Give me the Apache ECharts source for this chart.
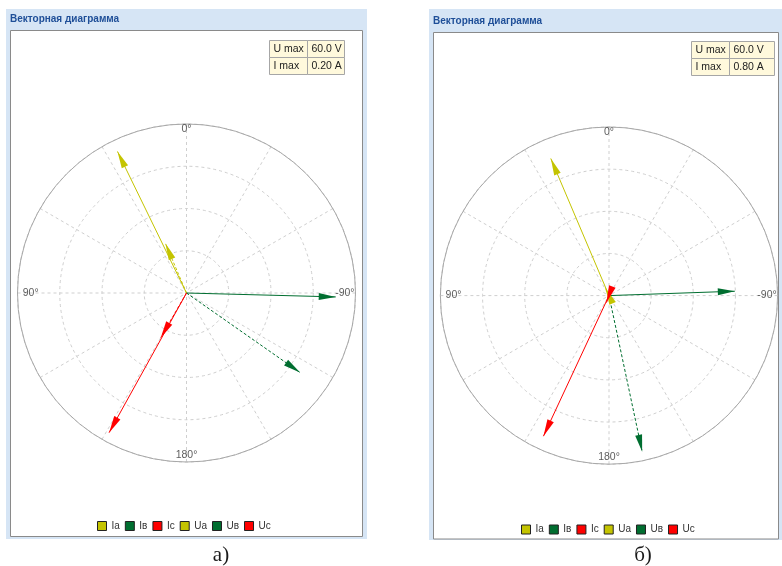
<!DOCTYPE html>
<html>
<head>
<meta charset="utf-8">
<script src="https://cdn.jsdelivr.net/npm/echarts@6/dist/echarts.min.js"></script>
<style>
  html, body { margin: 0; padding: 0; background: #ffffff; }
  #chart { width: 782px; height: 566px; }
</style>
</head>
<body>
<div id="chart"></div>
<script>
// Phasor names (currents first, then voltages)
const phasorNames = ['Iа', 'Iв', 'Iс', 'Uа', 'Uв', 'Uс'];
const isCurrent = [true, true, true, false, false, false];

// Panel а: magnitudes (A for currents, V for voltages) and angles (deg, CCW from top)
const magA = [0.064, 0.164, 0.061, 55.9, 53.0, 56.7];
const angA = [23, -125, 150, 26, -91.5, 151];

// Panel б
const magB = [0.04, 0.757, 0.035, 53.0, 44.8, 55.2];
const angB = [25, -168, 160, 23, -88, 155];

// Scale table
const scaleRowLabels = ['U max', 'I max'];
const scaleValuesA = ['60.0 V', '0.20 A'];
const scaleValuesB = ['60.0 V', '0.80 A'];
const uMaxList = [60, 60];
const iMaxList = [0.2, 0.8];

// Angle labels printed on the dial
const dialAngles = [0, 90, 180, -90];
const dialTexts = ['0°', '90°', '180°', '-90°'];

const panelTitle = 'Векторная диаграмма';
const captions = ['а)', 'б)'];

// ---- styling ----
const colorOf = { 'а': '#c4c400', 'в': '#006e30', 'с': '#ff0000' };
const phaseColor = name => colorOf[name.charAt(1)];
const gridColor = '#cfcfcf';
const labelFont = 'Liberation Sans';
// how far inside the rim each dial label sits (fraction of full scale)
const dialInset = [0.967, 0.922, 0.96, 0.937];

// Geometry of the two panels
const panels = [
  { center: [186.5, 293], radius: 169, mags: magA, angs: angA, values: scaleValuesA,
    frame: { x: 6, y: 9, w: 361, h: 530 }, bar: 21, inner: { x: 10.5, y: 30.5, w: 352, h: 506 },
    titleY: 19, table: { x: 269.5, y: 40.5, c1: 38, c2: 37, rh: 17 }, legend: { left: 97, top: 521 },
    caption: { x: 221, y: 555 } },
  { center: [609, 295.6], radius: 168.6, mags: magB, angs: angB, values: scaleValuesB,
    frame: { x: 429, y: 9, w: 360, h: 531 }, bar: 23, inner: { x: 433.5, y: 32.5, w: 345, h: 506.5 },
    titleY: 21, table: { x: 691.5, y: 41.5, c1: 38, c2: 45, rh: 17 }, legend: { left: 521, top: 524.5 },
    caption: { x: 643, y: 555 } }
];

const norm = a => ((a % 360) + 360) % 360;
// Arrow head: tip sits at the centre of the symbol's bounding box
const arrowPath = 'path://M5,0 M5,40 L8.5,80 L1.5,80 Z';

const polar = [], angleAxis = [], radiusAxis = [], series = [], legend = [], graphic = [];

panels.forEach((p, pi) => {
  // voltage polar (visible dial) and current polar (overlay, same geometry)
  [uMaxList[pi], iMaxList[pi]].forEach((maxVal, k) => {
    const visible = k === 0;
    polar.push({ center: p.center, radius: p.radius });
    angleAxis.push({
      polarIndex: polar.length - 1,
      type: 'value', min: 0, max: 360, interval: 30,
      startAngle: 90, clockwise: false,
      axisLine: { show: visible, lineStyle: { color: '#a8a8a8', width: 1 } },
      axisTick: { show: false },
      splitLine: { show: visible, lineStyle: { color: gridColor, type: [3, 3], width: 1 } },
      axisLabel: { show: false },
      silent: true
    });
    radiusAxis.push({
      polarIndex: polar.length - 1,
      type: 'value', min: 0, max: maxVal, splitNumber: 4, interval: maxVal / 4,
      axisLine: { show: false }, axisTick: { show: false }, axisLabel: { show: false },
      splitLine: { show: visible, lineStyle: { color: gridColor, type: [3, 3], width: 1 } },
      silent: true
    });
  });

  // dial angle labels, placed just inside the rim
  series.push({
    type: 'scatter', coordinateSystem: 'polar', polarIndex: pi * 2,
    symbolSize: 0, silent: true, animation: false, z: 5,
    label: {
      show: true, position: 'inside', color: '#333', fontSize: 10.5, fontFamily: labelFont,
      formatter: prm => dialTexts[prm.dataIndex]
    },
    data: dialAngles.map((a, j) => [uMaxList[pi] * dialInset[j], norm(a)])
  });

  phasorNames.forEach((name, i) => {
    const cur = isCurrent[i];
    const col = phaseColor(name);
    const ang = p.angs[i];
    series.push({
      type: 'line', name: name, coordinateSystem: 'polar',
      polarIndex: pi * 2 + (cur ? 1 : 0),
      color: col,
      lineStyle: { color: col, width: 1, type: cur ? [3, 2] : 'solid' },
      itemStyle: { color: col },
      showSymbol: true, showAllSymbol: true,
      silent: true, animation: false,
      z: cur ? 4 : 3,
      data: [
        { value: [0, norm(ang)], symbol: 'none' },
        { value: [p.mags[i], norm(ang)], symbol: arrowPath, symbolSize: [7, 34], symbolRotate: ang }
      ]
    });
  });

  legend.push({
    data: phasorNames, left: p.legend.left, top: p.legend.top, orient: 'horizontal',
    padding: 0, icon: 'rect', itemWidth: 9, itemHeight: 9, itemGap: 5, selectedMode: false,
    itemStyle: { borderColor: '#222', borderWidth: 1 },
    textStyle: { color: '#333', fontSize: 10, fontFamily: labelFont }
  });

  // frame, title bar and content area
  const f = p.frame, inn = p.inner, t = p.table;
  graphic.push(
    { type: 'rect', z: -10, shape: { x: f.x, y: f.y, width: f.w, height: f.h }, style: { fill: '#d6e5f5' } },
    { type: 'rect', z: -9, shape: { x: f.x, y: f.y, width: f.w, height: f.bar }, style: { fill: '#bed3eb' } },
    { type: 'rect', z: -8, shape: { x: inn.x, y: inn.y, width: inn.w, height: inn.h },
      style: { fill: '#ffffff', stroke: '#8a8a8a', lineWidth: 1 } },
    { type: 'text', z: 10, style: { text: panelTitle, x: f.x + 4, y: p.titleY, fill: '#1f4f98',
      font: 'bold 10px "Liberation Sans"', verticalAlign: 'middle', textVerticalAlign: 'middle' } }
  );
  // scale table
  scaleRowLabels.forEach((lab, r) => {
    const y = t.y + r * t.rh;
    graphic.push(
      { type: 'rect', z: 10, shape: { x: t.x, y: y, width: t.c1, height: t.rh },
        style: { fill: '#fff9dc', stroke: '#a6a6a6', lineWidth: 1 } },
      { type: 'rect', z: 10, shape: { x: t.x + t.c1, y: y, width: t.c2, height: t.rh },
        style: { fill: '#fff9dc', stroke: '#a6a6a6', lineWidth: 1 } },
      { type: 'text', z: 11, style: { text: lab, x: t.x + 4, y: y + t.rh / 2 + 0.5, fill: '#222',
        font: '10.5px "Liberation Sans"', verticalAlign: 'middle', textVerticalAlign: 'middle' } },
      { type: 'text', z: 11, style: { text: p.values[r], x: t.x + t.c1 + 4, y: y + t.rh / 2 + 0.5, fill: '#222',
        font: '10.5px "Liberation Sans"', verticalAlign: 'middle', textVerticalAlign: 'middle' } }
    );
  });
  // caption under the panel
  graphic.push({ type: 'text', z: 10, style: { text: captions[pi], x: p.caption.x, y: p.caption.y,
    fill: '#1a1a1a', font: '21px "Liberation Serif"', align: 'center', textAlign: 'center',
    verticalAlign: 'middle', textVerticalAlign: 'middle' } });
});

const chart = echarts.init(document.getElementById('chart'), null, { renderer: 'canvas' });
chart.setOption({
  animation: false,
  backgroundColor: '#ffffff',
  polar, angleAxis, radiusAxis, series, legend, graphic
});
</script>
</body>
</html>
